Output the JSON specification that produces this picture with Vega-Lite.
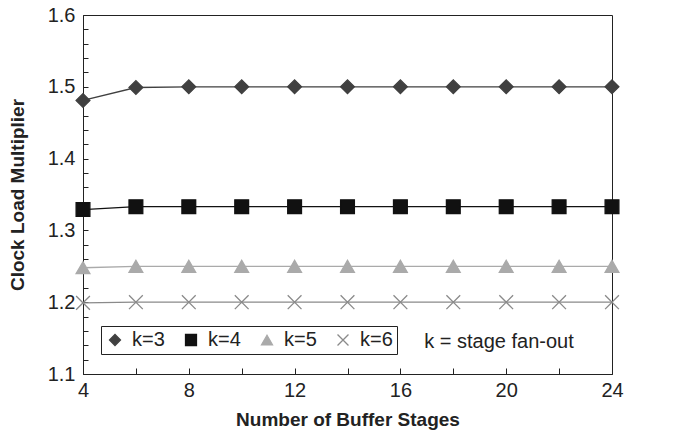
{
  "$schema": "https://vega.github.io/schema/vega-lite/v6.json",
  "width": 529,
  "height": 359,
  "autosize": "none",
  "padding": {"left": 83, "top": 15, "right": 65, "bottom": 63},
  "background": "white",
  "config": {
    "font": "Liberation Sans",
    "view": {"stroke": "#222", "strokeWidth": 1},
    "axis": {"grid": false, "domainColor": "#222", "tickColor": "#222", "labelColor": "#222", "titleColor": "#222", "labelFontSize": 20, "titleFontSize": 19, "titleFontWeight": "bold", "labelFont": "Liberation Sans", "titleFont": "Liberation Sans"},
    "legend": {"title": null, "orient": "none", "legendX": 18, "legendY": 311, "direction": "horizontal", "strokeColor": "#222", "padding": 4, "labelFontSize": 20, "labelFont": "Liberation Sans", "labelColor": "#222", "symbolSize": 120, "symbolStrokeWidth": 1.3, "columnPadding": 16, "labelOffset": 7}
  },
  "datasets": {
    "series": [
      {"stages": 4, "value": 1.481, "k": "k=3"},
      {"stages": 6, "value": 1.499, "k": "k=3"},
      {"stages": 8, "value": 1.5, "k": "k=3"},
      {"stages": 10, "value": 1.5, "k": "k=3"},
      {"stages": 12, "value": 1.5, "k": "k=3"},
      {"stages": 14, "value": 1.5, "k": "k=3"},
      {"stages": 16, "value": 1.5, "k": "k=3"},
      {"stages": 18, "value": 1.5, "k": "k=3"},
      {"stages": 20, "value": 1.5, "k": "k=3"},
      {"stages": 22, "value": 1.5, "k": "k=3"},
      {"stages": 24, "value": 1.5, "k": "k=3"},
      {"stages": 4, "value": 1.329, "k": "k=4"},
      {"stages": 6, "value": 1.333, "k": "k=4"},
      {"stages": 8, "value": 1.333, "k": "k=4"},
      {"stages": 10, "value": 1.333, "k": "k=4"},
      {"stages": 12, "value": 1.333, "k": "k=4"},
      {"stages": 14, "value": 1.333, "k": "k=4"},
      {"stages": 16, "value": 1.333, "k": "k=4"},
      {"stages": 18, "value": 1.333, "k": "k=4"},
      {"stages": 20, "value": 1.333, "k": "k=4"},
      {"stages": 22, "value": 1.333, "k": "k=4"},
      {"stages": 24, "value": 1.333, "k": "k=4"},
      {"stages": 4, "value": 1.248, "k": "k=5"},
      {"stages": 6, "value": 1.25, "k": "k=5"},
      {"stages": 8, "value": 1.25, "k": "k=5"},
      {"stages": 10, "value": 1.25, "k": "k=5"},
      {"stages": 12, "value": 1.25, "k": "k=5"},
      {"stages": 14, "value": 1.25, "k": "k=5"},
      {"stages": 16, "value": 1.25, "k": "k=5"},
      {"stages": 18, "value": 1.25, "k": "k=5"},
      {"stages": 20, "value": 1.25, "k": "k=5"},
      {"stages": 22, "value": 1.25, "k": "k=5"},
      {"stages": 24, "value": 1.25, "k": "k=5"},
      {"stages": 4, "value": 1.199, "k": "k=6"},
      {"stages": 6, "value": 1.2, "k": "k=6"},
      {"stages": 8, "value": 1.2, "k": "k=6"},
      {"stages": 10, "value": 1.2, "k": "k=6"},
      {"stages": 12, "value": 1.2, "k": "k=6"},
      {"stages": 14, "value": 1.2, "k": "k=6"},
      {"stages": 16, "value": 1.2, "k": "k=6"},
      {"stages": 18, "value": 1.2, "k": "k=6"},
      {"stages": 20, "value": 1.2, "k": "k=6"},
      {"stages": 22, "value": 1.2, "k": "k=6"},
      {"stages": 24, "value": 1.2, "k": "k=6"}
    ],
    "note": [{"stages": 16.9, "value": 1.145, "label": "k = stage fan-out"}]
  },
  "encoding": {
    "x": {
      "field": "stages", "type": "quantitative",
      "scale": {"domain": [4, 24], "nice": false, "zero": false},
      "axis": {"title": "Number of Buffer Stages", "values": [4, 6, 8, 10, 12, 14, 16, 18, 20, 22, 24], "labelExpr": "datum.value % 4 == 0 ? datum.label : ''", "tickSize": -6, "labelPadding": 12, "titlePadding": 10, "labelFlush": false, "labelFontSize": 20}
    },
    "y": {
      "field": "value", "type": "quantitative",
      "scale": {"domain": [1.1, 1.6], "nice": false, "zero": false},
      "axis": {"title": "Clock Load Multiplier", "values": [1.1, 1.12, 1.14, 1.16, 1.18, 1.2, 1.22, 1.24, 1.26, 1.28, 1.3, 1.32, 1.34, 1.36, 1.38, 1.4, 1.42, 1.44, 1.46, 1.48, 1.5, 1.52, 1.54, 1.56, 1.58, 1.6], "labelExpr": "abs(datum.value*10 - round(datum.value*10)) < 0.01 ? format(datum.value, '.1f') : ''", "tickSize": -5, "labelPadding": 13, "titlePadding": 20, "labelFontSize": 20}
    }
  },
  "layer": [
    {
      "data": {"name": "series"},
      "mark": {"type": "line", "strokeWidth": 1.3},
      "encoding": {
        "detail": {"field": "k"},
        "color": {"field": "k", "type": "nominal", "scale": {"domain": ["k=3", "k=4", "k=5", "k=6"], "range": ["#404040", "#111111", "#aaaaaa", "#8a8a8a"]}}
      }
    },
    {
      "data": {"name": "series"},
      "mark": {"type": "point", "filled": true, "opacity": 1, "size": 190, "strokeWidth": 1.3},
      "encoding": {
        "shape": {"field": "k", "type": "nominal", "scale": {"domain": ["k=3", "k=4", "k=5", "k=6"], "range": ["diamond", "square", "triangle-up", "M-1,-1L1,1M-1,1L1,-1"]}},
        "color": {"field": "k", "type": "nominal"},
        "stroke": {"field": "k", "type": "nominal", "scale": {"domain": ["k=3", "k=4", "k=5", "k=6"], "range": ["#404040", "#111111", "#aaaaaa", "#8a8a8a"]}}
      }
    },
    {
      "data": {"name": "note"},
      "mark": {"type": "text", "align": "left", "baseline": "middle", "fontSize": 20, "font": "Liberation Sans", "color": "#222"},
      "encoding": {"text": {"field": "label"}}
    }
  ]
}
